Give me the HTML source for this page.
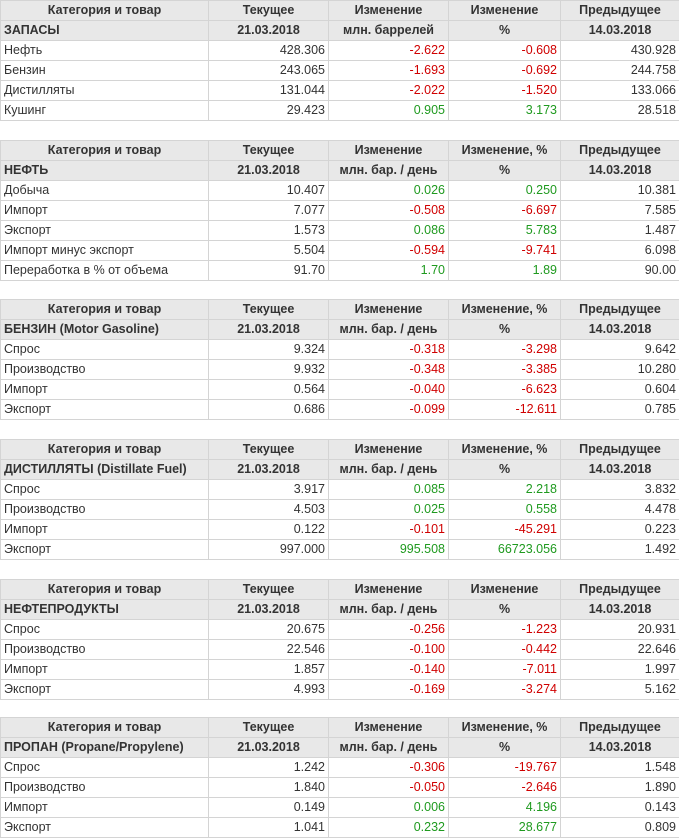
<!DOCTYPE html>
<html><head><meta charset="utf-8"><style>
body{margin:0;width:679px;height:838px;background:#fff;overflow:hidden;font-family:"Liberation Sans",Arial,sans-serif;font-size:12.5px;color:#333}
table{position:absolute;left:0;width:679px;border-collapse:collapse;table-layout:fixed}
td{height:19px;padding:0 3px;border:1px solid #d4d4d4;white-space:nowrap;overflow:hidden;line-height:19px;text-align:right}
td:first-child{text-align:left}
tr.h td{background:#e8e8e8;font-weight:bold;text-align:center}
tr.h2 td:first-child{text-align:left}
.g{color:#1f9a1f}.r{color:#d00000}
</style></head><body>
<table style="top:0">
<colgroup><col style="width:208px"><col style="width:120px"><col style="width:120px"><col style="width:112px"><col style="width:119px"></colgroup>
<tr class="h"><td style="text-align:center">Категория и товар</td><td>Текущее</td><td>Изменение</td><td>Изменение</td><td>Предыдущее</td></tr>
<tr class="h h2"><td>ЗАПАСЫ</td><td>21.03.2018</td><td>млн. баррелей</td><td>%</td><td>14.03.2018</td></tr>
<tr><td>Нефть</td><td>428.306</td><td class="r">-2.622</td><td class="r">-0.608</td><td>430.928</td></tr>
<tr><td>Бензин</td><td>243.065</td><td class="r">-1.693</td><td class="r">-0.692</td><td>244.758</td></tr>
<tr><td>Дистилляты</td><td>131.044</td><td class="r">-2.022</td><td class="r">-1.520</td><td>133.066</td></tr>
<tr><td>Кушинг</td><td>29.423</td><td class="g">0.905</td><td class="g">3.173</td><td>28.518</td></tr>
</table>
<table style="top:140px">
<colgroup><col style="width:208px"><col style="width:120px"><col style="width:120px"><col style="width:112px"><col style="width:119px"></colgroup>
<tr class="h"><td style="text-align:center">Категория и товар</td><td>Текущее</td><td>Изменение</td><td>Изменение, %</td><td>Предыдущее</td></tr>
<tr class="h h2"><td>НЕФТЬ</td><td>21.03.2018</td><td>млн. бар. / день</td><td>%</td><td>14.03.2018</td></tr>
<tr><td>Добыча</td><td>10.407</td><td class="g">0.026</td><td class="g">0.250</td><td>10.381</td></tr>
<tr><td>Импорт</td><td>7.077</td><td class="r">-0.508</td><td class="r">-6.697</td><td>7.585</td></tr>
<tr><td>Экспорт</td><td>1.573</td><td class="g">0.086</td><td class="g">5.783</td><td>1.487</td></tr>
<tr><td>Импорт минус экспорт</td><td>5.504</td><td class="r">-0.594</td><td class="r">-9.741</td><td>6.098</td></tr>
<tr><td>Переработка в % от объема</td><td>91.70</td><td class="g">1.70</td><td class="g">1.89</td><td>90.00</td></tr>
</table>
<table style="top:299px">
<colgroup><col style="width:208px"><col style="width:120px"><col style="width:120px"><col style="width:112px"><col style="width:119px"></colgroup>
<tr class="h"><td style="text-align:center">Категория и товар</td><td>Текущее</td><td>Изменение</td><td>Изменение, %</td><td>Предыдущее</td></tr>
<tr class="h h2"><td>БЕНЗИН (Motor Gasoline)</td><td>21.03.2018</td><td>млн. бар. / день</td><td>%</td><td>14.03.2018</td></tr>
<tr><td>Спрос</td><td>9.324</td><td class="r">-0.318</td><td class="r">-3.298</td><td>9.642</td></tr>
<tr><td>Производство</td><td>9.932</td><td class="r">-0.348</td><td class="r">-3.385</td><td>10.280</td></tr>
<tr><td>Импорт</td><td>0.564</td><td class="r">-0.040</td><td class="r">-6.623</td><td>0.604</td></tr>
<tr><td>Экспорт</td><td>0.686</td><td class="r">-0.099</td><td class="r">-12.611</td><td>0.785</td></tr>
</table>
<table style="top:439px">
<colgroup><col style="width:208px"><col style="width:120px"><col style="width:120px"><col style="width:112px"><col style="width:119px"></colgroup>
<tr class="h"><td style="text-align:center">Категория и товар</td><td>Текущее</td><td>Изменение</td><td>Изменение, %</td><td>Предыдущее</td></tr>
<tr class="h h2"><td>ДИСТИЛЛЯТЫ (Distillate Fuel)</td><td>21.03.2018</td><td>млн. бар. / день</td><td>%</td><td>14.03.2018</td></tr>
<tr><td>Спрос</td><td>3.917</td><td class="g">0.085</td><td class="g">2.218</td><td>3.832</td></tr>
<tr><td>Производство</td><td>4.503</td><td class="g">0.025</td><td class="g">0.558</td><td>4.478</td></tr>
<tr><td>Импорт</td><td>0.122</td><td class="r">-0.101</td><td class="r">-45.291</td><td>0.223</td></tr>
<tr><td>Экспорт</td><td>997.000</td><td class="g">995.508</td><td class="g">66723.056</td><td>1.492</td></tr>
</table>
<table style="top:579px">
<colgroup><col style="width:208px"><col style="width:120px"><col style="width:120px"><col style="width:112px"><col style="width:119px"></colgroup>
<tr class="h"><td style="text-align:center">Категория и товар</td><td>Текущее</td><td>Изменение</td><td>Изменение</td><td>Предыдущее</td></tr>
<tr class="h h2"><td>НЕФТЕПРОДУКТЫ</td><td>21.03.2018</td><td>млн. бар. / день</td><td>%</td><td>14.03.2018</td></tr>
<tr><td>Спрос</td><td>20.675</td><td class="r">-0.256</td><td class="r">-1.223</td><td>20.931</td></tr>
<tr><td>Производство</td><td>22.546</td><td class="r">-0.100</td><td class="r">-0.442</td><td>22.646</td></tr>
<tr><td>Импорт</td><td>1.857</td><td class="r">-0.140</td><td class="r">-7.011</td><td>1.997</td></tr>
<tr><td>Экспорт</td><td>4.993</td><td class="r">-0.169</td><td class="r">-3.274</td><td>5.162</td></tr>
</table>
<table style="top:717px">
<colgroup><col style="width:208px"><col style="width:120px"><col style="width:120px"><col style="width:112px"><col style="width:119px"></colgroup>
<tr class="h"><td style="text-align:center">Категория и товар</td><td>Текущее</td><td>Изменение</td><td>Изменение, %</td><td>Предыдущее</td></tr>
<tr class="h h2"><td>ПРОПАН (Propane/Propylene)</td><td>21.03.2018</td><td>млн. бар. / день</td><td>%</td><td>14.03.2018</td></tr>
<tr><td>Спрос</td><td>1.242</td><td class="r">-0.306</td><td class="r">-19.767</td><td>1.548</td></tr>
<tr><td>Производство</td><td>1.840</td><td class="r">-0.050</td><td class="r">-2.646</td><td>1.890</td></tr>
<tr><td>Импорт</td><td>0.149</td><td class="g">0.006</td><td class="g">4.196</td><td>0.143</td></tr>
<tr><td>Экспорт</td><td>1.041</td><td class="g">0.232</td><td class="g">28.677</td><td>0.809</td></tr>
</table>
</body></html>
